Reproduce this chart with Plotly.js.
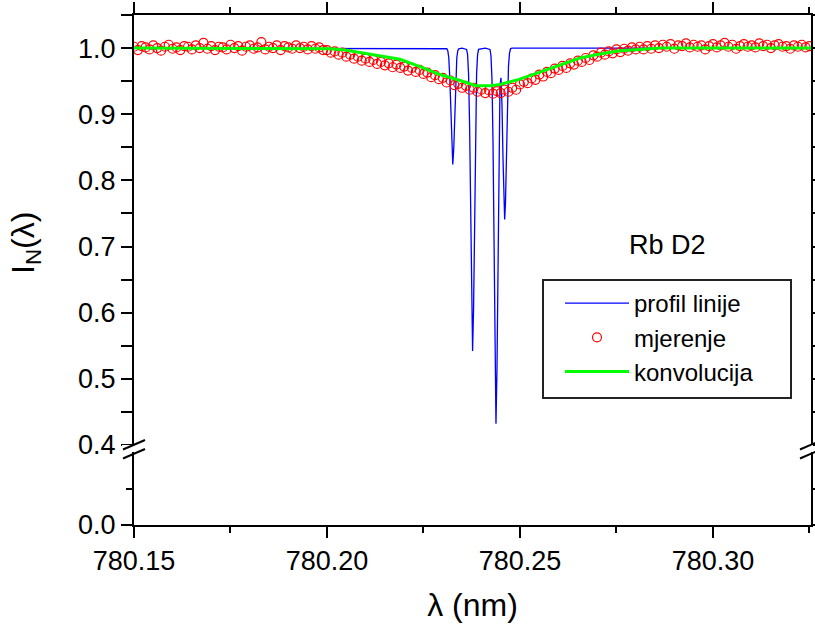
<!DOCTYPE html>
<html>
<head>
<meta charset="utf-8">
<script src="https://cdn.plot.ly/plotly-3.0.1.min.js"></script>
<style>html,body{margin:0;padding:0;background:#fff;}</style>
</head>
<body>
<div id="chart" style="width:815px;height:624px;"></div>
<script>
// ---- data ----
const seriesNames = ['profil linije', 'mjerenje', 'konvolucija'];
const annotationText = 'Rb D2';
const xTitle = 'λ (nm)';
const yTitle = 'I<sub>N</sub>(λ)';

// theoretical line profile
const profilLambda = [780.15000, 780.23000,
  780.23104, 780.23130, 780.23156, 780.23181, 780.23207, 780.23233, 780.23259,
  780.23285, 780.23311, 780.23337, 780.23363, 780.23389, 780.23414,
  780.23500,
  780.23617, 780.23643, 780.23668, 780.23694, 780.23720, 780.23746, 780.23772,
  780.23798, 780.23824, 780.23850, 780.23876, 780.23902, 780.23927,
  780.24100,
  780.24223, 780.24249, 780.24275, 780.24301, 780.24326, 780.24352, 780.24378,
  780.24404, 780.24430, 780.24456, 780.24482, 780.24508, 780.24534, 780.24560,
  780.24585, 780.24603, 780.24624, 780.24650, 780.24676, 780.24702, 780.24728,
  780.24754, 780.24793, 780.32540];
const profilValue = [1.000, 1.000,
  0.999, 0.996, 0.985, 0.956, 0.905, 0.849, 0.824,
  0.849, 0.905, 0.956, 0.985, 0.996, 0.999,
  1.000,
  0.998, 0.990, 0.961, 0.886, 0.753, 0.607, 0.542,
  0.607, 0.753, 0.886, 0.961, 0.990, 0.998,
  1.000,
  0.998, 0.988, 0.952, 0.859, 0.694, 0.513, 0.432,
  0.513, 0.694, 0.857, 0.944, 0.955, 0.914, 0.834,
  0.760, 0.741, 0.765, 0.843, 0.923, 0.972, 0.992,
  0.999, 1.000, 1.000];

// measurement: evenly sampled, start and step in nm
const mjerenjeStart = 780.150;
const mjerenjeStep = 0.001;
const mjerenjeValue = [
  1.002, 0.997, 1.003, 1.001, 0.998, 1.004, 1.000, 0.996, 1.002, 1.005,
  0.999, 1.001, 0.997, 1.003, 1.002, 0.998, 1.004, 1.000, 1.008, 0.999,
  1.003, 0.997, 1.002, 1.001, 0.998, 1.005, 1.000, 1.003, 0.996, 1.002,
  1.004, 0.999, 1.001, 1.009, 0.998, 1.002, 1.000, 1.004, 0.997, 1.003,
  1.001, 0.999, 1.004, 1.000, 1.002, 0.998, 1.003, 0.999, 1.001, 0.997,
  0.997, 0.993, 0.995, 0.990, 0.993, 0.987, 0.990, 0.984, 0.987, 0.981,
  0.984, 0.979, 0.982, 0.976, 0.979, 0.974, 0.977, 0.971, 0.975, 0.970,
  0.972, 0.966, 0.970, 0.964, 0.967, 0.961, 0.963, 0.956, 0.959, 0.953,
  0.955, 0.948, 0.951, 0.944, 0.946, 0.940, 0.943, 0.937, 0.940, 0.934,
  0.937, 0.932, 0.936, 0.931, 0.935, 0.932, 0.937, 0.934, 0.940, 0.937,
  0.945, 0.949, 0.947, 0.954, 0.952, 0.960, 0.957, 0.964, 0.962, 0.969,
  0.967, 0.973, 0.970, 0.977, 0.975, 0.981, 0.979, 0.985, 0.982, 0.989,
  0.987, 0.993, 0.990, 0.995, 0.992, 0.998, 0.994, 0.999, 0.996, 1.001,
  0.998, 1.002, 0.998, 1.003, 0.999, 1.004, 1.000, 1.005, 1.002, 1.006,
  0.999, 1.004, 1.003, 1.007, 1.001, 1.005, 1.002, 1.004, 0.998, 1.003,
  1.006, 1.001, 1.004, 1.008, 1.002, 1.005, 0.999, 1.003, 1.006, 1.002,
  1.004, 1.001, 1.007, 1.003, 1.005, 1.000, 1.004, 1.006, 1.002, 1.003,
  0.999, 1.004, 1.002, 1.005, 1.001, 1.003];

// convolution
const konvLambda = [780.15000, 780.19819, 780.20078, 780.20466, 780.20855, 780.21373,
  780.21891, 780.22409, 780.22927, 780.23446, 780.23860, 780.24223, 780.24482,
  780.25000, 780.25518, 780.26036, 780.26554, 780.27073, 780.27591, 780.28109,
  780.28627, 780.32540];
const konvValue = [1.000, 1.000, 0.999, 0.997, 0.993, 0.988,
  0.983, 0.972, 0.960, 0.951, 0.943, 0.943, 0.945,
  0.953, 0.964, 0.975, 0.985, 0.991, 0.996, 0.998,
  1.000, 1.000];

// axes
const xRange = [780.15, 780.3254];
const yUpperRange = [0.4, 1.05];
const yLowerRange = [0, 0.4];
const yLowerTickVals = [0];
const yLowerTickText = ['0.0'];
const yLowerMinorVals = [0.2];

// ---- chart ----
const FONT = 'Liberation Sans, Arial, Helvetica, sans-serif';
const traces = [
  {x: profilLambda, y: profilValue, name: seriesNames[0], type: 'scatter', mode: 'lines',
   line: {color: '#0000ff', width: 1.3}, xaxis: 'x', yaxis: 'y'},
  {x0: mjerenjeStart, dx: mjerenjeStep, y: mjerenjeValue, name: seriesNames[1], type: 'scatter', mode: 'markers',
   marker: {symbol: 'circle-open', size: 9, color: '#ff0000', line: {width: 1.2, color: '#ff0000'}},
   xaxis: 'x', yaxis: 'y'},
  {x: konvLambda, y: konvValue, name: seriesNames[2], type: 'scatter', mode: 'lines',
   line: {color: '#00ff00', width: 3}, xaxis: 'x', yaxis: 'y'},
  {x: [null], y: [null], xaxis: 'x', yaxis: 'y2', showlegend: false, hoverinfo: 'skip', mode: 'markers'},
  {x: [null], y: [null], xaxis: 'x2', yaxis: 'y', showlegend: false, hoverinfo: 'skip', mode: 'markers'}
];

const axisCommon = {
  showline: true, linewidth: 2, linecolor: 'black', showgrid: false, zeroline: false,
  ticks: 'outside', ticklen: 11, tickwidth: 2, tickcolor: 'black',
  tickfont: {family: FONT, size: 27, color: 'black'}
};
const minorCommon = {ticks: 'outside', ticklen: 6, tickwidth: 2, tickcolor: 'black', showgrid: false};

function px2x(px) { return (px - 134) / 677; }
function py2y(py) { return (525 - py) / 510; }
function brk(x1, y1, x2, y2) {
  return {type: 'line', xref: 'paper', yref: 'paper', x0: px2x(x1), y0: py2y(y1), x1: px2x(x2), y1: py2y(y2),
          line: {color: 'black', width: 2}};
}

const layout = {
  width: 815, height: 624,
  margin: {l: 134, r: 4, t: 15, b: 99, pad: 0},
  paper_bgcolor: 'white', plot_bgcolor: 'white',
  font: {family: FONT, color: 'black'},
  showlegend: true,
  xaxis: Object.assign({}, axisCommon, {
    range: xRange, anchor: 'y2', tick0: 780.15, dtick: 0.05, tickformat: '.2f',
    minor: Object.assign({}, minorCommon, {tick0: 780.15, dtick: 0.025}),
    title: {text: xTitle, font: {family: FONT, size: 32}, standoff: 18}
  }),
  xaxis2: Object.assign({}, axisCommon, {
    range: xRange, anchor: 'y', overlaying: 'x', side: 'top', showticklabels: false,
    tick0: 780.15, dtick: 0.05,
    minor: Object.assign({}, minorCommon, {tick0: 780.15, dtick: 0.025})
  }),
  yaxis: Object.assign({}, axisCommon, {
    domain: [py2y(445), 1], range: yUpperRange, anchor: 'x', tick0: 0, dtick: 0.1, tickformat: '.1f',
    mirror: 'allticks',
    minor: Object.assign({}, minorCommon, {tick0: 0, dtick: 0.05})
  }),
  yaxis2: Object.assign({}, axisCommon, {
    domain: [0, py2y(452)], range: yLowerRange, anchor: 'x', tickmode: 'array',
    tickvals: yLowerTickVals, ticktext: yLowerTickText, mirror: 'allticks',
    minor: Object.assign({}, minorCommon, {tickmode: 'array', tickvals: yLowerMinorVals})
  }),
  legend: {
    x: px2x(560), y: py2y(281), xanchor: 'left', yanchor: 'top',
    bgcolor: 'rgba(0,0,0,0)', borderwidth: 0,
    font: {family: FONT, size: 24, color: 'black'},
    itemwidth: 64, tracegroupgap: 0
  },
  annotations: [
    {text: annotationText, xref: 'paper', yref: 'paper', x: px2x(667), y: py2y(245),
     xanchor: 'center', yanchor: 'middle',
     showarrow: false, font: {family: FONT, size: 27, color: 'black'}},
    {text: yTitle, xref: 'paper', yref: 'paper', x: px2x(26), y: py2y(243), textangle: -90,
     xanchor: 'center', yanchor: 'middle',
     showarrow: false, font: {family: FONT, size: 32, color: 'black'}}
  ],
  shapes: [
    {type: 'rect', xref: 'paper', yref: 'paper', x0: px2x(543), x1: px2x(791), y0: py2y(398), y1: py2y(280),
     fillcolor: 'white', line: {color: '#222', width: 2}, layer: 'above'},
    {type: 'rect', xref: 'paper', yref: 'paper', x0: px2x(122), x1: px2x(146), y0: py2y(452), y1: py2y(445),
     fillcolor: 'white', line: {width: 0}, layer: 'above'},
    brk(123, 449.5, 145, 440), brk(123, 458.5, 145, 449),
    brk(800, 449.5, 822, 440), brk(800, 458.5, 822, 449)
  ]
};

Plotly.newPlot('chart', traces, layout, {staticPlot: true, displayModeBar: false});
</script>
</body>
</html>
